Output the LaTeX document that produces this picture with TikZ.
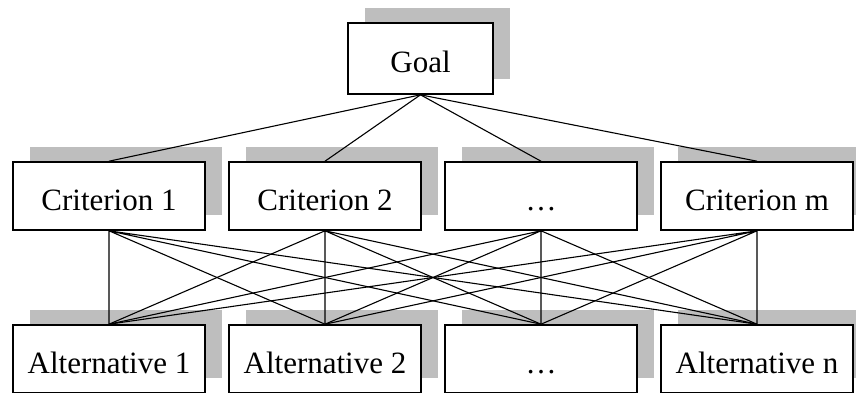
\documentclass[tikz,border=0pt]{standalone}
\usepackage{fontspec}
\setmainfont{Liberation Serif}
\usepackage{xcolor}
\usepackage{tikz}
\usetikzlibrary{shadows, positioning}
\definecolor{shadowGray}{RGB}{190,190,190}

\begin{document}
\begin{tikzpicture}[
    x=1pt, y=-1pt,
    font=\fontsize{31}{36}\selectfont,
    box/.style  = {draw=black, line width=1.6pt, fill=white, inner sep=0pt,
                   minimum width=192pt, minimum height=68pt,
                   text height=28pt, text depth=0pt,
                   drop shadow={shadow xshift=17pt, shadow yshift=15pt,
                                fill=shadowGray, opacity=1}},
    goalbox/.style = {box, minimum width=145pt, minimum height=71pt},
    link/.style = {draw=black, line width=1.1pt}
]
\path[use as bounding box, clip] (0,0) rectangle (856,392);

% Top level
\node[goalbox] (goal) at (420.5,58.5) {Goal};

% Criteria row
\node[box] (c1) at (109,196) {Criterion 1};
\node[box] (c2) at (325,196) {Criterion 2};
\node[box] (c3) at (541,196) {\dots};
\node[box] (c4) at (757,196) {Criterion m};

% Alternatives row (cut off by the bottom edge)
\node[box] (a1) at (109,359) {Alternative 1};
\node[box] (a2) at (325,359) {Alternative 2};
\node[box] (a3) at (541,359) {\dots};
\node[box] (a4) at (757,359) {Alternative n};

% Goal to every criterion
\draw[link] (goal.south) -- (c1.north);
\draw[link] (goal.south) -- (c2.north);
\draw[link] (goal.south) -- (c3.north);
\draw[link] (goal.south) -- (c4.north);

% Every criterion to every alternative
\draw[link] (c1.south) -- (a1.north) (c1.south) -- (a2.north) (c1.south) -- (a3.north) (c1.south) -- (a4.north);
\draw[link] (c2.south) -- (a1.north) (c2.south) -- (a2.north) (c2.south) -- (a3.north) (c2.south) -- (a4.north);
\draw[link] (c3.south) -- (a1.north) (c3.south) -- (a2.north) (c3.south) -- (a3.north) (c3.south) -- (a4.north);
\draw[link] (c4.south) -- (a1.north) (c4.south) -- (a2.north) (c4.south) -- (a3.north) (c4.south) -- (a4.north);

\end{tikzpicture}
\end{document}
